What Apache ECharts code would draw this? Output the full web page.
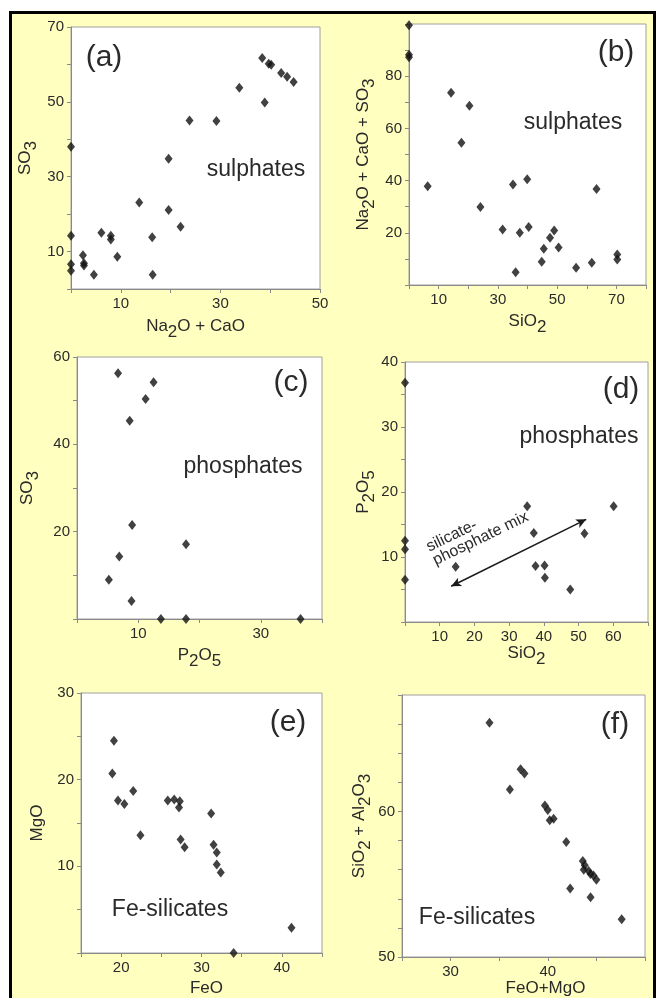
<!DOCTYPE html>
<html>
<head>
<meta charset="utf-8">
<script src="https://cdn.jsdelivr.net/npm/echarts@6/dist/echarts.min.js"></script>
<style>
html,body{margin:0;padding:0;background:#fff;}
#frame{position:absolute;left:9px;top:11px;width:641px;height:1000px;background:#FFFFC0;border:3px solid #000;border-bottom:none;}
#chart{position:absolute;left:0;top:0;width:656px;height:998px;}
</style>
</head>
<body>
<div id="frame"></div>
<div id="chart"></div>
<script>
// ---------- data ----------
const aX = [0,0,0,0,2.4,2.6,2.6,4.6,6.1,8.0,8.0,9.3,13.7,16.3,16.4,19.6,19.6,22.0,23.8,29.2,33.8,38.4,38.9,39.7,40.2,42.2,43.4,44.7];
const aY = [38.0,14.2,6.6,4.9,9.0,6.9,6.3,3.8,15.0,14.2,13.2,8.6,23.1,13.8,3.8,34.8,21.1,16.6,45.0,44.9,53.8,61.7,49.8,60.2,59.9,57.7,56.7,55.3];
const aXLabels = [10,30,50];
const aYLabels = [10,30,50,70];

const bX = [0,0,0,6.3,14.2,20.4,17.7,24.1,31.6,35.1,36.0,37.4,39.9,40.4,44.8,45.5,47.6,49.0,50.5,56.4,61.7,63.3,70.3,70.3];
const bY = [99.5,88.2,87.3,37.8,73.7,68.7,54.5,29.9,21.3,38.5,4.9,20.0,40.5,22.2,8.9,13.9,18.1,20.9,14.4,6.6,8.5,36.8,11.7,9.8];
const bXLabels = [10,30,50,70];
const bYLabels = [20,40,60,80];

const cX = [6.7,12.5,11.2,8.6,9.0,17.8,6.9,5.2,8.9,13.7,17.8,36.5];
const cY = [56.3,54.2,50.4,45.4,21.5,17.1,14.3,9.0,4.1,0,0,0];
const cXLabels = [10,30];
const cYLabels = [20,40,60];

const dX = [0,0,0,0,14.6,35.2,37.1,37.6,40.2,40.3,47.6,51.7,60.1];
const dY = [36.8,12.5,11.2,6.5,8.5,17.8,13.7,8.6,8.7,6.8,5.0,13.6,17.8];
const dXLabels = [10,20,30,40,50,60];
const dYLabels = [10,20,30,40];
const dArrowStart = [13.3,5.5];
const dArrowEnd = [52.2,15.8];

const eX = [19.1,18.9,19.6,20.4,21.5,22.4,25.8,26.6,27.3,27.2,27.4,27.9,31.2,31.5,31.9,31.9,32.4,34.0,41.2];
const eY = [24.5,20.7,17.6,17.2,18.7,13.6,17.6,17.7,17.5,16.8,13.1,12.2,16.1,12.5,11.6,10.2,9.3,0,2.9];
const eXLabels = [20,30,40];
const eYLabels = [10,20,30];

const fX = [34.0,36.1,37.2,37.6,39.7,40.0,40.2,40.6,41.9,42.3,43.6,43.8,43.7,44.2,44.4,44.7,45.0,44.4,47.6];
const fY = [66.1,61.5,62.9,62.6,60.4,60.1,59.4,59.5,57.9,54.7,56.6,56.3,56.0,55.9,55.7,55.6,55.3,54.1,52.6];
const fXLabels = [30,40];
const fYLabels = [50,60];

// ---------- layout ----------
const FONT = 'Liberation Sans, Arial, sans-serif';
const TXT = '#2a2a2a';
const AX = '#8a8a8a';
const rich = {
  n: {fontSize: 17, fontFamily: FONT, color: TXT, lineHeight: 32},
  s: {fontSize: 17, fontFamily: FONT, color: TXT, padding: [12, 0, 0, 0]}
};
const panels = [
  {x: aX, y: aY, grid: {left: 71, top: 27, width: 249, height: 262},
   xr: [0, 50, 10], yr: [0, 70, 10], xl: aXLabels, yl: aYLabels,
   xName: '{n|Na}{s|2}{n|O + CaO}', yName: '{n|SO}{s|3}', xGap: 21, yGap: 30, xPad: [0,0,0,0]},
  {x: bX, y: bY, grid: {left: 409, top: 24, width: 237, height: 261},
   xr: [0, 80, 10], yr: [0, 100, 10], xl: bXLabels, yl: bYLabels,
   xName: '{n|SiO}{s|2}', yName: '{n|Na}{s|2}{n|O + CaO + SO}{s|3}', xGap: 20, yGap: 30, xPad: [0,0,0,0]},
  {x: cX, y: cY, grid: {left: 77, top: 357, width: 245, height: 262},
   xr: [0, 40, 10], yr: [0, 60, 10], xl: cXLabels, yl: cYLabels,
   xName: '{n|P}{s|2}{n|O}{s|5}', yName: '{n|SO}{s|3}', xGap: 20, yGap: 34, xPad: [0,0,0,0]},
  {x: dX, y: dY, grid: {left: 405, top: 362, width: 243, height: 260},
   xr: [0, 70, 10], yr: [0, 40, 5], xl: dXLabels, yl: dYLabels,
   xName: '{n|SiO}{s|2}', yName: '{n|P}{s|2}{n|O}{s|5}', xGap: 15, yGap: 23, xPad: [0,0,0,0]},
  {x: eX, y: eY, grid: {left: 81, top: 693, width: 241, height: 260},
   xr: [15, 45, 5], yr: [0, 30, 5], xl: eXLabels, yl: eYLabels,
   xName: '{n|FeO}', yName: '{n|MgO}', xGap: 19, yGap: 28, xPad: [0,0,0,10]},
  {x: fX, y: fY, grid: {left: 402, top: 695, width: 243, height: 262},
   xr: [25, 50, 5], yr: [50, 68, 2], xl: fXLabels, yl: fYLabels,
   xName: '{n|FeO+MgO}', yName: '{n|SiO}{s|2}{n| + Al}{s|2}{n|O}{s|3}', xGap: 11, yGap: 27, xPad: [0,0,0,44]}
];

const grid = [], xAxis = [], yAxis = [], series = [];
panels.forEach((p, i) => {
  grid.push(Object.assign({show: true, backgroundColor: '#fff', borderColor: '#a0a0a0', borderWidth: 1}, p.grid));
  const common = {
    type: 'value', gridIndex: i, splitLine: {show: false},
    axisLine: {show: true, onZero: false, lineStyle: {color: AX, width: 1}},
    axisTick: {show: true, length: 4, lineStyle: {color: AX}},
    nameLocation: 'middle', nameTextStyle: {rich: rich}
  };
  xAxis.push(Object.assign({}, common, {
    min: p.xr[0], max: p.xr[1], interval: p.xr[2],
    name: p.xName, nameGap: p.xGap,
    nameTextStyle: {rich: rich, padding: p.xPad},
    axisLabel: {margin: 7, fontSize: 15, fontFamily: FONT, color: TXT,
      formatter: (v) => p.xl.indexOf(v) >= 0 ? String(v) : ''}
  }));
  yAxis.push(Object.assign({}, common, {
    min: p.yr[0], max: p.yr[1], interval: p.yr[2],
    name: p.yName, nameGap: p.yGap,
    axisLabel: {margin: 7, fontSize: 15, fontFamily: FONT, color: TXT,
      formatter: (v) => p.yl.indexOf(v) >= 0 ? String(v) : ''}
  }));
  const s = {
    type: 'scatter', xAxisIndex: i, yAxisIndex: i, clip: false,
    symbol: 'diamond', symbolSize: [8, 10],
    itemStyle: {color: '#111'},
    data: p.x.map((v, k) => [v, p.y[k]])
  };
  if (i === 3) {
    s.markLine = {
      silent: true, symbol: ['arrow', 'arrow'], symbolSize: [7, 10], precision: 3,
      lineStyle: {color: '#1a1a1a', width: 1.5, type: 'solid'},
      label: {show: false},
      data: [[{coord: dArrowStart}, {coord: dArrowEnd}]]
    };
  }
  series.push(s);
});

function txt(x, y, text, size, extra) {
  return Object.assign({
    type: 'text', x: x, y: y, z: 100,
    style: {text: text, font: size + 'px ' + FONT, fill: TXT,
      textAlign: 'center', textVerticalAlign: 'middle', align: 'center', verticalAlign: 'middle'}
  }, extra || {});
}
const graphic = [
  txt(104, 58, '(a)', 30), txt(256, 170, 'sulphates', 23),
  txt(616, 53, '(b)', 30), txt(573, 123, 'sulphates', 23),
  txt(291, 383, '(c)', 30), txt(243, 467, 'phosphates', 23),
  txt(621, 390, '(d)', 30), txt(579, 437, 'phosphates', 23),
  txt(288, 723, '(e)', 30), txt(170, 910, 'Fe-silicates', 23),
  txt(615, 725, '(f)', 30), txt(477, 918, 'Fe-silicates', 23),
  {type: 'text', x: 424, y: 541, rotation: 0.45, z: 100,
   style: {text: 'silicate-\nphosphate mix', font: '16px ' + FONT, fill: TXT, lineHeight: 15,
     textAlign: 'left', textVerticalAlign: 'top', align: 'left', verticalAlign: 'top'}}
];

const chart = echarts.init(document.getElementById('chart'), null, {renderer: 'canvas'});
chart.setOption({
  backgroundColor: 'transparent',
  animation: false,
  grid: grid, xAxis: xAxis, yAxis: yAxis, series: series, graphic: graphic
});
</script>
</body>
</html>
